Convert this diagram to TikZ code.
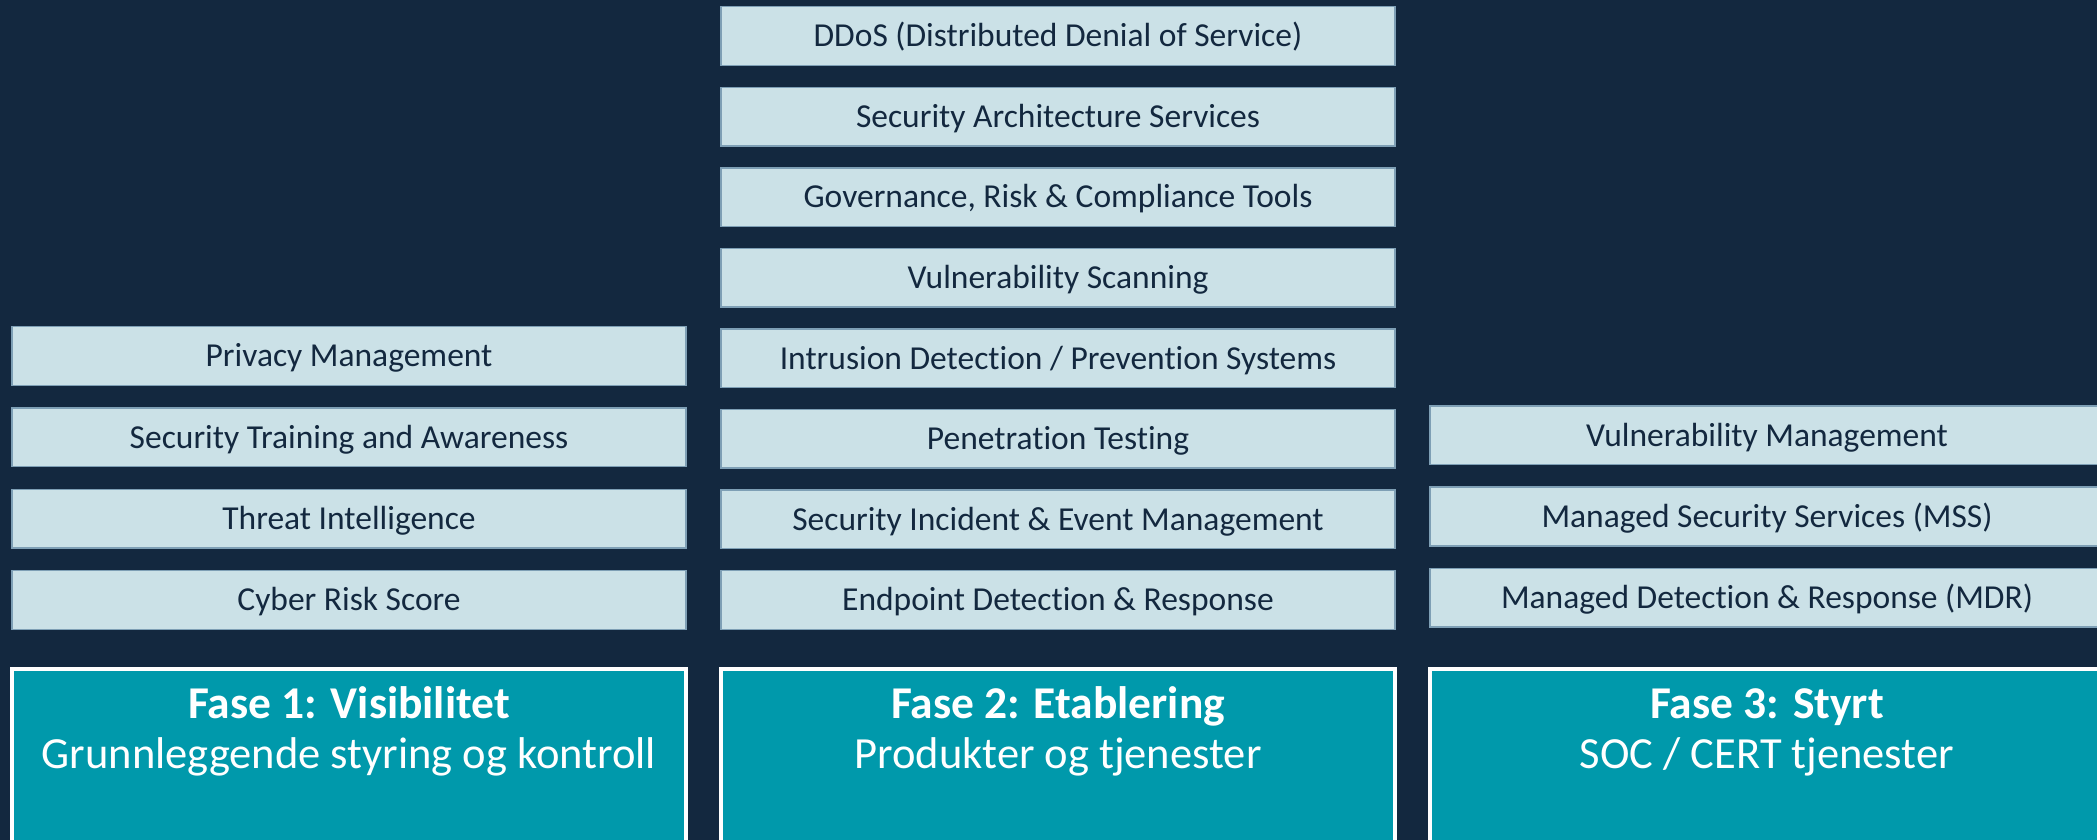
\documentclass[tikz,border=0pt]{standalone}
\usepackage{fontspec}
\setmainfont{Carlito}[Ligatures=NoCommon]
\definecolor{bgnavy}{HTML}{13283F}
\definecolor{lightbox}{HTML}{CBE1E7}
\definecolor{lightedge}{HTML}{7E9FB5}
\definecolor{tealbox}{HTML}{0099AB}
\tikzset{
  item/.style={draw=lightedge, line width=1.5pt, fill=lightbox, text=bgnavy,
    minimum width=674pt, minimum height=58.6pt, inner sep=0pt, outer sep=0pt,
    anchor=north west, text height=21.5pt, text depth=0pt,
    font=\fontsize{33.5pt}{40pt}\selectfont},
  phase/.style={draw=white, line width=4pt, fill=tealbox},
  phasetitle/.style={text=white, anchor=base, inner sep=0pt,
    font=\fontsize{45.5pt}{50pt}\selectfont\bfseries},
  phasesub/.style={text=white, anchor=base, inner sep=0pt,
    font=\fontsize{44.5pt}{50pt}\selectfont},
}
\begin{document}
\begin{tikzpicture}[x=1pt,y=-1pt]
\fill[bgnavy] (0,0) rectangle (2097,840);
\useasboundingbox (0,0) rectangle (2097,840);
\clip (0,0) rectangle (2097,840);
% Left column
\node[item] (l1) at (12,326.7) {Privacy Management};
\node[item] (l2) at (12,408.0) {Security Training and Awareness};
\node[item] (l3) at (12,489.3) {Threat Intelligence};
\node[item] (l4) at (12,570.7) {Cyber Risk Score};
% Middle column
\node[item] (m1) at (721,6.7) {DDoS (Distributed Denial of Service)};
\node[item] (m2) at (721,87.3) {Security Architecture Services};
\node[item] (m3) at (721,167.8) {Governance, Risk \& Compliance Tools};
\node[item] (m4) at (721,248.4) {Vulnerability Scanning};
\node[item] (m5) at (721,329.0) {Intrusion Detection / Prevention Systems};
\node[item] (m6) at (721,409.5) {Penetration Testing};
\node[item] (m7) at (721,490.1) {Security Incident \& Event Management};
\node[item] (m8) at (721,570.7) {Endpoint Detection \& Response};
% Right column
\node[item] (r1) at (1430,406.0) {Vulnerability Management};
\node[item] (r2) at (1430,487.2) {Managed Security Services (MSS)};
\node[item] (r3) at (1430,568.4) {Managed Detection \& Response (MDR)};
% Phase boxes
\draw[phase] (12,668.7) rectangle (686,900);
\draw[phase] (721,668.7) rectangle (1395,900);
\draw[phase] (1430,668.7) rectangle (2104,900);
\node[phasetitle] (p1t) at (349,718) {Fase 1: Visibilitet};
\node[phasesub] (p1s) at (349,768) {Grunnleggende styring og kontroll};
\node[phasetitle] (p2t) at (1058,718) {Fase 2: Etablering};
\node[phasesub] (p2s) at (1058,768) {Produkter og tjenester};
\node[phasetitle] (p3t) at (1767,718) {Fase 3: Styrt};
\node[phasesub] (p3s) at (1767,768) {SOC / CERT tjenester};
\end{tikzpicture}
\end{document}
